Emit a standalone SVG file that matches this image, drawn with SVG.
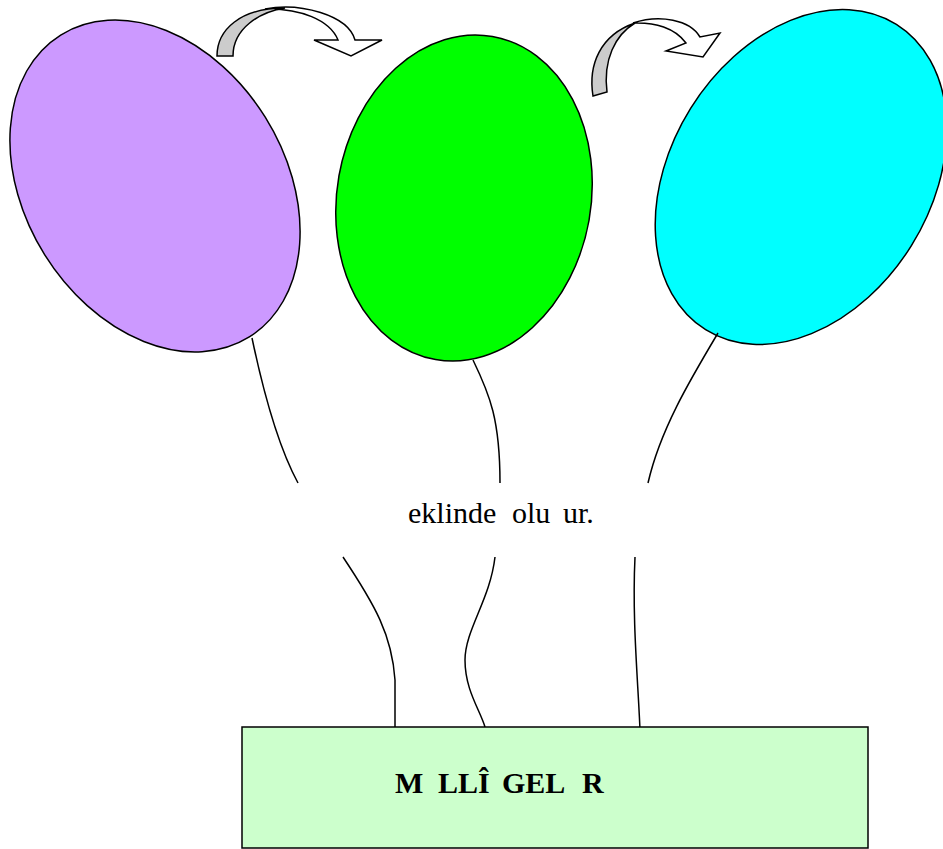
<svg xmlns="http://www.w3.org/2000/svg" width="943" height="849" viewBox="0 0 943 849">
<style>
.bal{stroke:#000;stroke-width:1.5}
.str{fill:none;stroke:#000;stroke-width:1.5}
.arw{stroke:#000;stroke-width:1.5;stroke-linejoin:miter}
.t{font-family:"Liberation Serif","Times New Roman",serif;font-size:30px;fill:#000}
</style>
<rect width="943" height="849" fill="#fff"/>
<g id="arrow1">
<path class="arw" fill="#fff" d="M265,9 C300,2 348,15 355,40 L382,40 L351,56 L314,40 L338,40 C330,20 300,8 265,9 Z"/>
<path class="arw" fill="#ccc" d="M217,56 C217,30 240,8 285,8 C260,12 233,28 233,56 Z"/>
</g>
<g id="arrow2">
<path class="arw" fill="#fff" d="M633,23 C660,14 690,20 700,37 L720,33 L703,57 L666,51 L686,43 C675,28 655,22 633,23 Z"/>
<path class="arw" fill="#ccc" d="M593,96 C588,65 600,35 635,23 C615,35 603,60 607,92 Z"/>
</g>
<g id="balloon-purple">
<ellipse class="bal" fill="#cc99ff" cx="155" cy="186" rx="130" ry="178" transform="rotate(-32 155 186)"/>
</g>
<g id="balloon-green">
<ellipse class="bal" fill="#00ff00" cx="464" cy="198" rx="127" ry="164" transform="rotate(10 464 198)"/>
</g>
<g id="balloon-cyan">
<ellipse class="bal" fill="#00ffff" cx="801" cy="177" rx="130" ry="180" transform="rotate(32 801 177)"/>
</g>
<g id="connectors">
<path class="str" d="M252,338 C265,400 280,450 298,483"/>
<path class="str" d="M343,557 C375,605 392,635 395,680 L395,728"/>
<path class="str" d="M473,360 C490,395 500,420 500,483"/>
<path class="str" d="M495,557 C490,600 465,630 465,660 C465,690 480,710 485,727"/>
<path class="str" d="M718,333 C690,380 660,430 648,483"/>
<path class="str" d="M635,557 C632,620 638,680 640,730"/>
</g>
<g id="label">
<text class="t" y="523" font-size="31"><tspan x="408">eklinde</tspan><tspan x="512">olu</tspan><tspan x="563">ur.</tspan></text>
</g>
<g id="box">
<rect x="242" y="727" width="626" height="121" fill="#ccffcc" stroke="#000" stroke-width="1.5"/>
<text class="t" y="793" font-weight="bold"><tspan x="395">M</tspan><tspan x="438">LLÎ</tspan><tspan x="502">GEL</tspan><tspan x="582">R</tspan></text>
</g>
</svg>
